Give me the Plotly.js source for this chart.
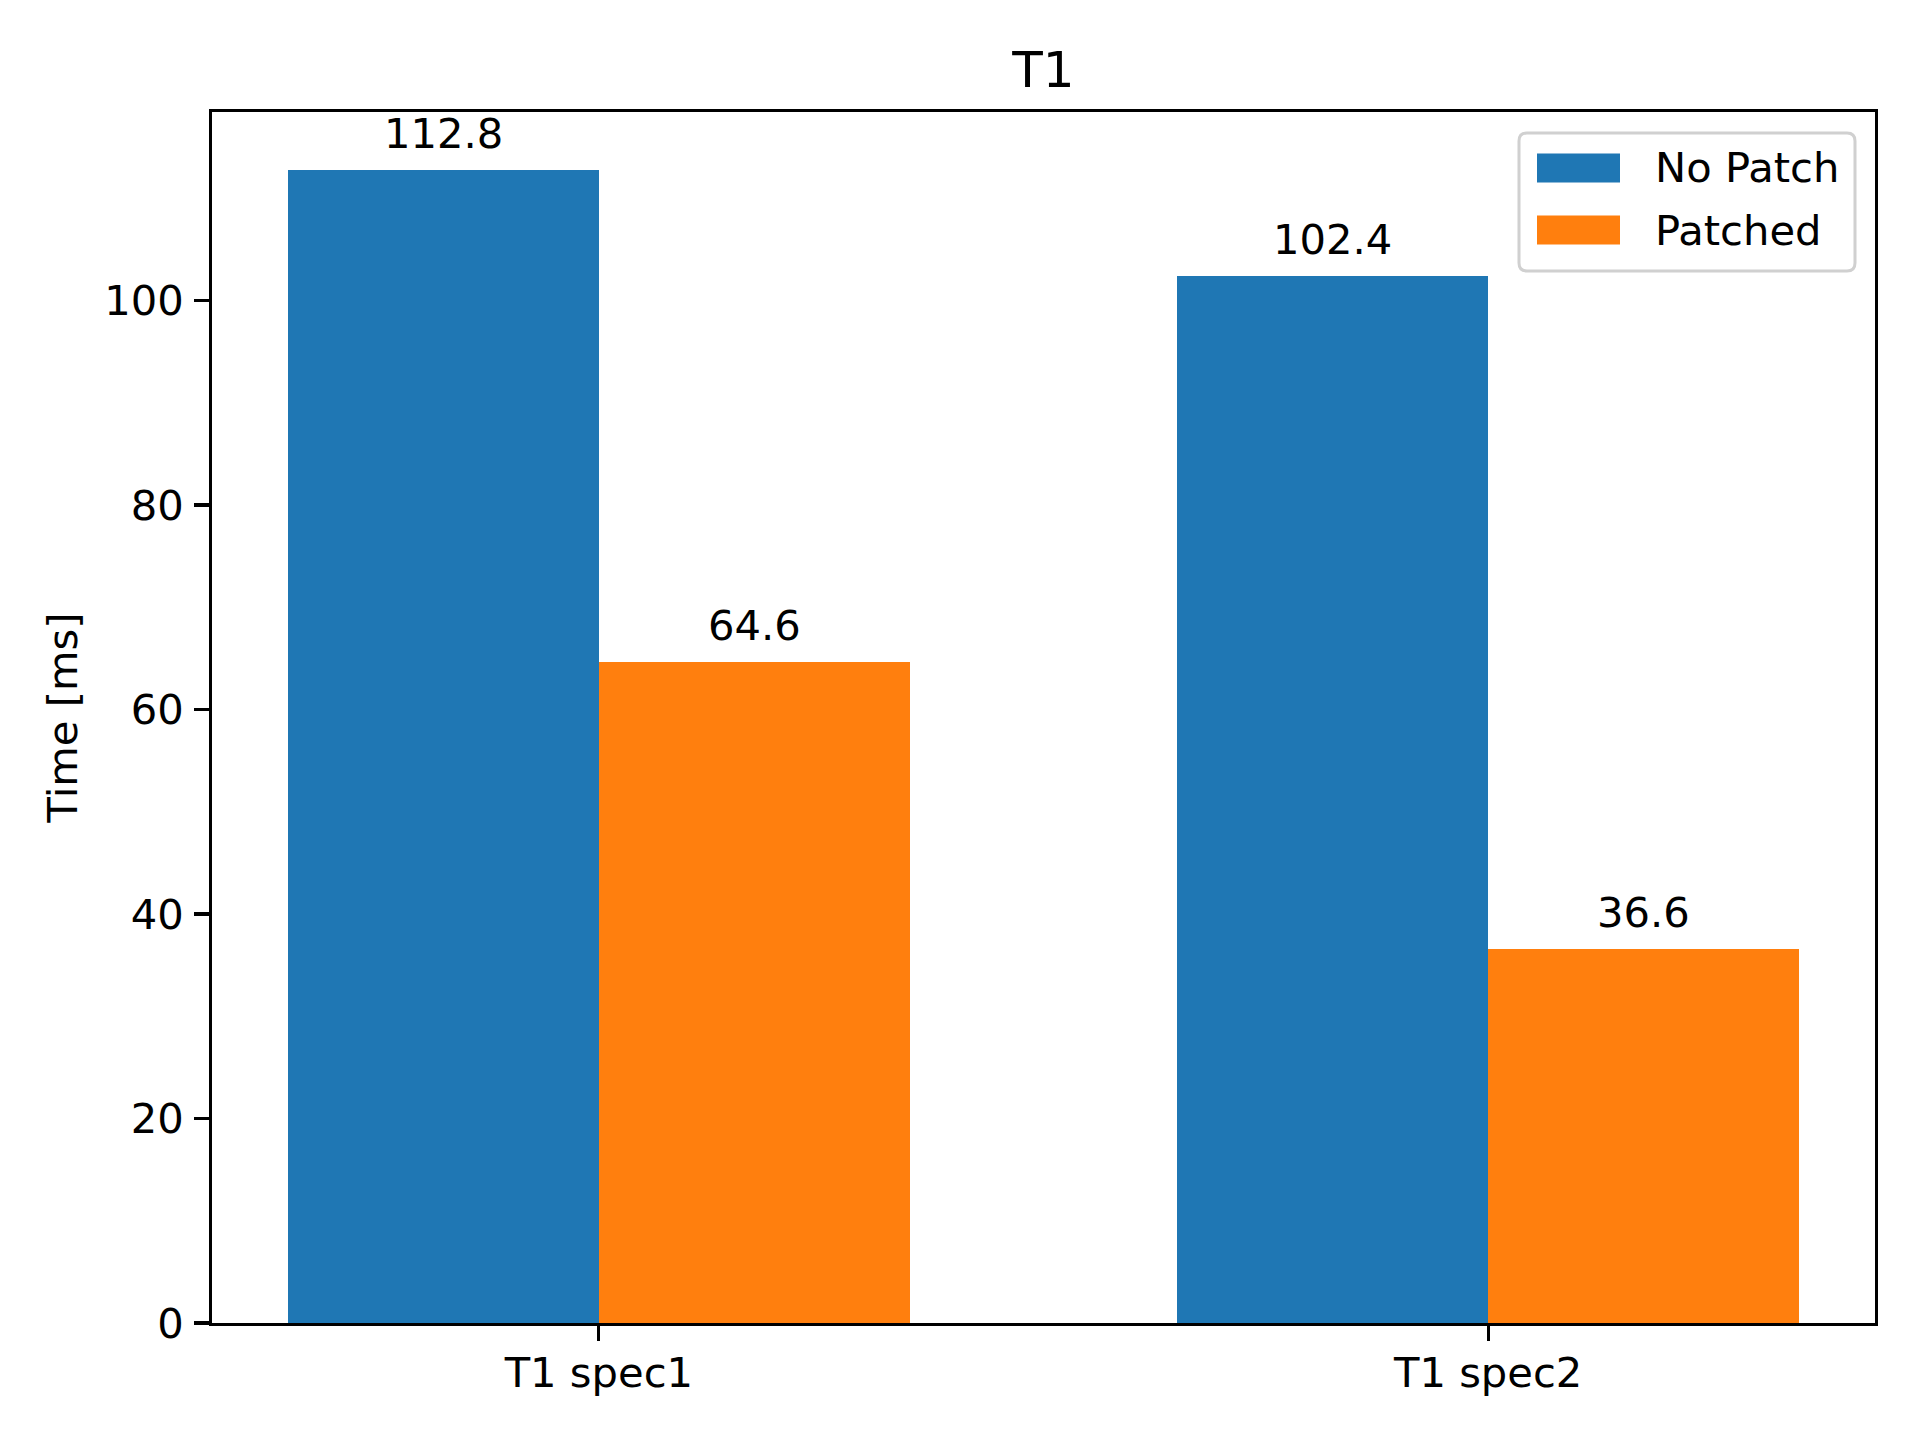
<!DOCTYPE html>
<html>
<head>
<meta charset="utf-8">
<script src="https://cdn.plot.ly/plotly-3.0.1.min.js"></script>
<style>html,body{margin:0;padding:0;background:#fff;}#chart{width:1920px;height:1440px;}</style>
</head>
<body>
<div id="chart"></div>
<script>
const categories = ["T1 spec1", "T1 spec2"];
const seriesNames = ["No Patch", "Patched"];
const noPatch = [112.8, 102.4];
const patched = [64.6, 36.6];
const seriesColors = ["#1f77b4", "#ff7f0e"];
const titleText = "T1";
const yTitle = "Time [ms]";
const yTicks = [0, 20, 40, 60, 80, 100];

const FS = 41.67;
const font = "DejaVu Sans, sans-serif";
const W = 1920, H = 1440;
const L = 212, R = 1875, T = 112, B = 1323;
const pw = R - L, ph = B - T;
const px2x = p => (p - L) / pw;
const py2y = p => (B - p) / ph;

const seriesValues = [noPatch, patched];
const barW = 0.35;
const traces = seriesValues.map((vals, i) => ({
  type: "bar",
  name: seriesNames[i],
  x: categories.map((c, k) => k + (i - 0.5) * barW),
  y: vals,
  width: barW,
  marker: {color: seriesColors[i], line: {width: 0}},
  showlegend: false,
  hoverinfo: "none"
}));

const annotations = [];
seriesValues.forEach((vals, i) => {
  vals.forEach((v, k) => {
    annotations.push({
      x: k + (i - 0.5) * barW, y: v, xref: "x", yref: "y",
      text: v.toFixed(1), showarrow: false,
      xanchor: "center", yanchor: "bottom", yshift: 10,
      font: {family: font, size: FS, color: "#000"}
    });
  });
});

// custom legend (matplotlib style)
const shapes = [];
const lgL = 1519, lgR = 1855, lgT = 133, lgB = 271, rad = 8;
const path = `M ${px2x(lgL + rad)} ${py2y(lgT)} L ${px2x(lgR - rad)} ${py2y(lgT)} Q ${px2x(lgR)} ${py2y(lgT)} ${px2x(lgR)} ${py2y(lgT + rad)} L ${px2x(lgR)} ${py2y(lgB - rad)} Q ${px2x(lgR)} ${py2y(lgB)} ${px2x(lgR - rad)} ${py2y(lgB)} L ${px2x(lgL + rad)} ${py2y(lgB)} Q ${px2x(lgL)} ${py2y(lgB)} ${px2x(lgL)} ${py2y(lgB - rad)} L ${px2x(lgL)} ${py2y(lgT + rad)} Q ${px2x(lgL)} ${py2y(lgT)} ${px2x(lgL + rad)} ${py2y(lgT)} Z`;
shapes.push({type: "path", xref: "paper", yref: "paper", path: path,
  fillcolor: "rgba(255,255,255,0.8)", line: {color: "#d0d0d0", width: 3}, layer: "above"});
const rowCenters = [168, 230];
seriesNames.forEach((n, i) => {
  const cy = rowCenters[i];
  shapes.push({type: "rect", xref: "paper", yref: "paper",
    x0: px2x(1537), x1: px2x(1620), y0: py2y(cy - 14.5), y1: py2y(cy + 14.5),
    fillcolor: seriesColors[i], line: {width: 0}, layer: "above"});
  annotations.push({xref: "paper", yref: "paper", x: px2x(1653), y: py2y(cy),
    xanchor: "left", yanchor: "middle", text: n, showarrow: false,
    font: {family: font, size: FS, color: "#000"}});
});

const layout = {
  width: W, height: H,
  margin: {l: L, r: W - R, t: T, b: H - B, pad: 0},
  paper_bgcolor: "#fff", plot_bgcolor: "#fff",
  font: {family: font, size: FS, color: "#000"},
  title: {text: titleText, font: {family: font, size: 50, color: "#000"},
    x: 0.5, xanchor: "center", xref: "paper", y: 1 - 87 / H, yanchor: "bottom"},
  xaxis: {
    range: [-0.435, 1.435], tickmode: "array", tickvals: categories.map((c, k) => k), ticktext: categories,
    showgrid: false, zeroline: false, showline: true, linecolor: "#000", linewidth: 3.3, mirror: true,
    ticks: "outside", ticklen: 14.6, tickwidth: 3.3, tickcolor: "#000", ticklabelstandoff: -4,
    tickfont: {family: font, size: FS, color: "#000"}, fixedrange: true
  },
  yaxis: {
    range: [0, 118.44], tickmode: "array", tickvals: yTicks, ticktext: yTicks.map(String),
    showgrid: false, zeroline: false, showline: true, linecolor: "#000", linewidth: 3.3, mirror: true,
    ticks: "outside", ticklen: 14.6, tickwidth: 3.3, tickcolor: "#000", ticklabelstandoff: 2,
    tickfont: {family: font, size: FS, color: "#000"},
    title: {text: yTitle, font: {family: font, size: FS, color: "#000"}, standoff: 14}, fixedrange: true
  },
  bargap: 0, showlegend: false,
  annotations: annotations, shapes: shapes
};

Plotly.newPlot("chart", traces, layout, {displayModeBar: false, staticPlot: true});
</script>
</body>
</html>
